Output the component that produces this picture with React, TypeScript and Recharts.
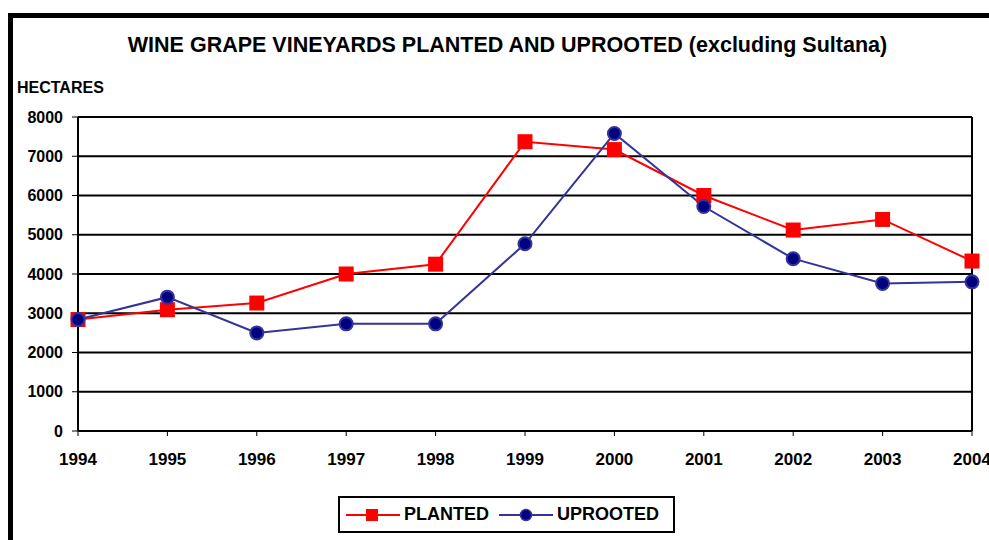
import { LineChart, Line, XAxis, YAxis, CartesianGrid, ReferenceLine } from "recharts";

const years = ["1994", "1995", "1996", "1997", "1998", "1999", "2000", "2001", "2002", "2003", "2004"];
const planted = [2840, 3090, 3260, 4000, 4250, 7370, 7170, 6000, 5120, 5390, 4330];
const uprooted = [2840, 3410, 2500, 2730, 2730, 4770, 7580, 5720, 4390, 3760, 3800];
const yTicks = [0, 1000, 2000, 3000, 4000, 5000, 6000, 7000, 8000];

const data = years.map((year, i) => ({ year, planted: planted[i], uprooted: uprooted[i] }));

const FONT = "'Liberation Sans', Arial, sans-serif";
const RED = "#FF0000";
const NAVY = "#000080";
const BLUE = "#333399";

// red square markers, like the Excel original
function SquareDot(props: any) {
  const { cx, cy, index } = props;
  if (cx == null || cy == null) return null;
  return <rect key={`sq-${index}`} x={cx - 7.5} y={cy - 7.5} width={15} height={15} fill={RED} />;
}

export default function App() {
  const yTick = { fontSize: 16, fontWeight: 700, fill: "#000", fontFamily: FONT };
  const xTick = { fontSize: 17, fontWeight: 700, fill: "#000", fontFamily: FONT };

  return (
    <div
      style={{
        position: "fixed",
        left: 0,
        top: 0,
        width: 989,
        height: 540,
        overflow: "hidden",
        background: "#fff",
        fontFamily: FONT,
      }}
    >
      {/* outer frame, runs off the right and bottom */}
      <div
        style={{
          position: "absolute",
          left: 8,
          top: 13,
          width: 1100,
          height: 700,
          border: "5px solid #000",
          boxSizing: "border-box",
        }}
      />

      <div
        style={{
          position: "absolute",
          left: 0,
          top: 32,
          width: 1015,
          textAlign: "center",
          fontSize: 21.5,
          fontWeight: 700,
          lineHeight: "26px",
          color: "#000",
        }}
      >
        WINE GRAPE VINEYARDS PLANTED AND UPROOTED (excluding Sultana)
      </div>
      <div
        style={{
          position: "absolute",
          left: 17,
          top: 78,
          fontSize: 16,
          fontWeight: 700,
          lineHeight: "19px",
          color: "#000",
        }}
      >
        HECTARES
      </div>

      <div style={{ position: "absolute", left: 0, top: 0 }}>
        <LineChart
          width={1000}
          height={540}
          data={data}
          margin={{ top: 117, right: 28, bottom: 69, left: 8 }}
        >
          <CartesianGrid horizontal vertical={false} stroke="#000" strokeWidth={2} />
          <XAxis
            dataKey="year"
            height={40}
            tick={xTick}
            tickSize={5}
            tickMargin={17}
            tickLine={{ stroke: "#000", strokeWidth: 1 }}
            axisLine={{ stroke: "#000", strokeWidth: 2 }}
            interval={0}
          />
          <YAxis
            width={70}
            domain={[0, 8000]}
            ticks={yTicks}
            tick={yTick}
            tickSize={6}
            tickMargin={9}
            tickLine={{ stroke: "#000", strokeWidth: 1 }}
            axisLine={{ stroke: "#000", strokeWidth: 2 }}
          />
          <ReferenceLine x="2004" stroke="#000" strokeWidth={2} />
          <Line
            dataKey="planted"
            stroke={RED}
            strokeWidth={2}
            dot={<SquareDot />}
            isAnimationActive={false}
          />
          <Line
            dataKey="uprooted"
            stroke={BLUE}
            strokeWidth={2}
            dot={{ r: 6.5, fill: NAVY, stroke: BLUE, strokeWidth: 2 }}
            isAnimationActive={false}
          />
        </LineChart>
      </div>

      {/* Legend */}
      <div
        style={{
          position: "absolute",
          left: 338,
          top: 496,
          width: 337,
          height: 37,
          border: "2px solid #000",
          boxSizing: "border-box",
          display: "flex",
          alignItems: "center",
          fontSize: 18,
          fontWeight: 700,
          color: "#000",
        }}
      >
        <svg width={54} height={16} style={{ marginLeft: 6 }}>
          <line x1={0} y1={8} x2={54} y2={8} stroke={RED} strokeWidth={2} />
          <rect x={20} y={2} width={12} height={12} fill={RED} />
        </svg>
        <span style={{ marginLeft: 4 }}>PLANTED</span>
        <svg width={54} height={16} style={{ marginLeft: 10 }}>
          <line x1={0} y1={8} x2={54} y2={8} stroke={BLUE} strokeWidth={2} />
          <circle cx={27} cy={8} r={5.5} fill={NAVY} stroke={BLUE} strokeWidth={1.5} />
        </svg>
        <span style={{ marginLeft: 4 }}>UPROOTED</span>
      </div>
    </div>
  );
}
